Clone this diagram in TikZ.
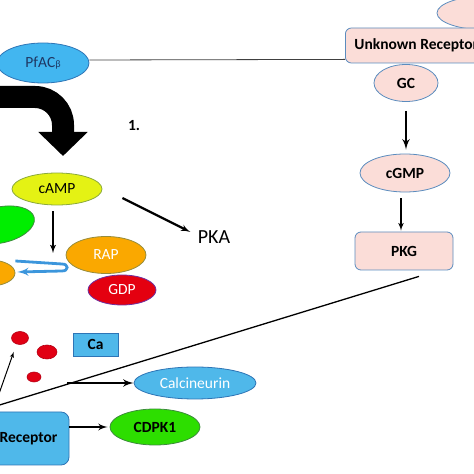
\documentclass[tikz,border=0pt]{standalone}
\usepackage{fontspec}
\setmainfont{Carlito}
\usepackage{tikz}
\usetikzlibrary{positioning, arrows, arrows.meta, shapes.geometric}

\definecolor{pinkfill}{RGB}{251,221,216}
\definecolor{pinkedge}{RGB}{91,140,190}
\definecolor{pfblue}{RGB}{66,182,240}
\definecolor{pfedge}{RGB}{46,117,182}
\definecolor{navytext}{RGB}{31,56,100}
\definecolor{campyellow}{RGB}{228,242,20}
\definecolor{campedge}{RGB}{140,170,60}
\definecolor{leafgreen}{RGB}{0,238,0}
\definecolor{leafedge}{RGB}{60,140,60}
\definecolor{raporange}{RGB}{250,168,0}
\definecolor{rapedge}{RGB}{150,140,60}
\definecolor{gdpred}{RGB}{228,0,16}
\definecolor{gdpedge}{RGB}{112,48,160}
\definecolor{ionred}{RGB}{225,0,20}
\definecolor{ionedge}{RGB}{180,0,20}
\definecolor{cablue}{RGB}{79,184,234}
\definecolor{loopblue}{RGB}{60,150,220}
\definecolor{cdpkgreen}{RGB}{45,222,0}

\tikzset{
>=latex', % triangular arrow heads
x=1pt, y=1pt, % one unit is one pixel of the figure
every node/.style={font=\fontsize{15.5}{15.5}\selectfont}, % body text size
bold/.style={font=\fontsize{15.5}{15.5}\selectfont\bfseries}, % bold label
blob/.style={ellipse, draw, line width=0.8pt, inner sep=0pt}, % coloured ellipse
box/.style={rectangle, rounded corners=6pt, draw, line width=0.8pt, inner sep=0pt}, % coloured box
ion/.style={ellipse, fill=ionred, draw=ionedge, line width=0.6pt, inner sep=0pt}, % one calcium ion
link/.style={->, line width=2.2pt}, % a thick signalling arrow
}

\begin{document}
\begin{tikzpicture}
    \useasboundingbox (0,0) rectangle (474,474);
    \clip (0,0) rectangle (474,474);

    % cGMP branch
    \node[blob, fill=pinkfill, draw=pinkedge, minimum width=100pt, minimum height=34pt] (topblob) at (487,461) {};
    \node[box, fill=pinkfill, draw=pinkedge, minimum height=35pt, anchor=west, inner xsep=9pt, bold] (unknown) at (345,428.5) {Unknown Receptor};
    \node[blob, fill=pinkfill, draw=pinkedge, minimum width=64pt, minimum height=37pt, bold] (gc) at (406,391) {GC};
    \node[blob, fill=pinkfill, draw=pinkedge, minimum width=90pt, minimum height=38pt, bold] (cgmp) at (405,301) {cGMP};
    \node[box, fill=pinkfill, draw=pinkedge, minimum width=98pt, minimum height=38pt, bold] (pkg) at (404,223) {PKG};

    % cAMP branch
    \node[blob, fill=pfblue, draw=pfedge, minimum width=92pt, minimum height=40pt, text=navytext] (pfac) at (43,411) {PfAC{\fontsize{10}{10}\selectfont β}};
    \node[bold] (step1) at (134,348) {1.};
    \node[blob, fill=campyellow, draw=campedge, minimum width=90pt, minimum height=32pt] (camp) at (57,285) {cAMP};
    \node[font=\fontsize{20}{20}\selectfont] (pka) at (214,237) {PKA};
    \node[blob, fill=leafgreen, draw=leafedge, minimum width=70pt, minimum height=36pt, rotate=12] (epac) at (0,249) {};
    \node[blob, fill=raporange, draw=rapedge, minimum width=50pt, minimum height=26pt] (rapleft) at (-10,201) {};
    \node[blob, fill=raporange, draw=rapedge, minimum width=80pt, minimum height=37pt, text=white] (rap) at (106,219) {RAP};
    \node[blob, fill=gdpred, draw=gdpedge, minimum width=68pt, minimum height=30pt, text=white] (gdp) at (122,184) {GDP};

    % calcium branch
    \node[ion, minimum width=17pt, minimum height=13pt] (ion1) at (20,136) {};
    \node[ion, minimum width=20pt, minimum height=14pt] (ion2) at (47,122) {};
    \node[ion, minimum width=14pt, minimum height=10pt] (ion3) at (34,97) {};
    \node[rectangle, draw=pfedge, line width=0.8pt, fill=cablue, minimum width=45pt, minimum height=23pt, bold] (ca) at (95.5,129.5) {Ca};
    \node[blob, fill=cablue, draw=pfedge, minimum width=122pt, minimum height=32pt, text=white] (calc) at (195,91) {Calcineurin};
    \node[box, rounded corners=8pt, fill=cablue, draw=pfedge, minimum width=81pt, minimum height=53pt, bold] (receptor) at (28.5,35.5) {Receptor};
    \node[blob, fill=cdpkgreen, draw=leafedge, minimum width=90pt, minimum height=36pt, bold] (cdpk) at (155,47) {CDPK1};

    % free ends
    \coordinate (flowstart) at (-10,377);
    \coordinate (camphit) at (53,221);
    \coordinate (lineend) at (-20,63);
    \coordinate (ionstart) at (-6,66);
    \coordinate (calstart) at (67,91);

    \draw[line width=0.8pt, black!75] ([yshift=3pt]pfac.east) -- ([yshift=4pt]unknown.south west);
    \draw[line width=22pt, -{Triangle[length=24pt,width=48pt]}] (flowstart) -- (35,377) arc[start angle=90, end angle=0, radius=28] -- (63,318);
    \draw[link, line width=2.6pt, shorten <=9pt, shorten >=4pt] (gc.south) -- (gc.south |- cgmp.north);
    \draw[link, line width=1.6pt, shorten <=6pt, shorten >=1pt] ([xshift=-4pt]cgmp.south) -- ([xshift=-4pt]cgmp.south |- pkg.north);
    \draw[line width=1.3pt] ([shift={(15pt,-6pt)}]pkg.south) -- (lineend);
    \draw[link, line width=1.8pt] ([shift={(-4pt,-6pt)}]camp.south) -- (camphit);
    \draw[link] ([shift={(20pt,-9pt)}]camp.east) -- ([shift={(-4pt,5pt)}]pka.west);
    \draw[->, loopblue, line width=2.8pt, looseness=2.5] ([yshift=12pt]rapleft.east) -- (62,210) to[out=0, in=0] (62,203) -- ([shift={(2pt,1pt)}]rapleft.east);
    \draw[->, line width=1pt] (ionstart) -- ([yshift=-9pt]ion1.south west);
    \draw[link, line width=2.6pt] (calstart) -- (calc);
    \draw[link, shorten >=2pt] (receptor.east |- cdpk.west) -- (cdpk.west);
\end{tikzpicture}
\end{document}
